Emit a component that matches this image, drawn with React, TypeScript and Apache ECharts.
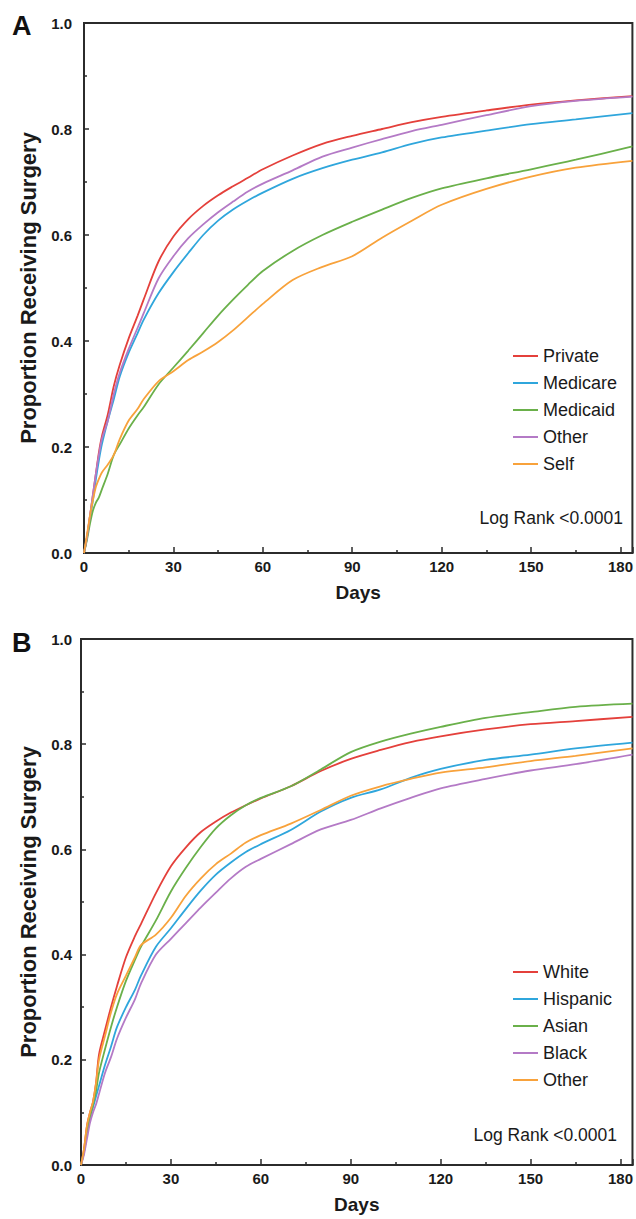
import React, { useEffect, useRef } from "react";
import * as echarts from "echarts";

const FONT = "'Liberation Sans', Arial, Helvetica, sans-serif";

const days = [0, 1, 2, 3, 4, 5, 6, 8, 10, 12, 15, 18, 20, 25, 30, 35, 40, 45, 50, 55, 60, 70, 80, 90, 100, 110, 120, 135, 150, 165, 184];

const xTickValues = [0, 30, 60, 90, 120, 150, 180];
const yTickValues = [0, 0.2, 0.4, 0.6, 0.8, 1.0];

// Panel A: payer
const payerNames = ["Private", "Medicare", "Medicaid", "Other", "Self"];
const privateVals = [0, 0.03, 0.07, 0.11, 0.15, 0.19, 0.22, 0.262, 0.315, 0.355, 0.405, 0.448, 0.478, 0.55, 0.597, 0.63, 0.655, 0.675, 0.692, 0.708, 0.724, 0.75, 0.772, 0.787, 0.8, 0.813, 0.823, 0.835, 0.846, 0.854, 0.862];
const medicareVals = [0, 0.03, 0.065, 0.1, 0.14, 0.175, 0.205, 0.25, 0.29, 0.333, 0.378, 0.415, 0.44, 0.49, 0.53, 0.566, 0.6, 0.627, 0.648, 0.665, 0.68, 0.706, 0.726, 0.742, 0.756, 0.772, 0.784, 0.797, 0.809, 0.818, 0.83];
const medicaidVals = [0, 0.025, 0.055, 0.08, 0.095, 0.105, 0.12, 0.15, 0.185, 0.205, 0.235, 0.26, 0.275, 0.318, 0.35, 0.382, 0.415, 0.448, 0.478, 0.506, 0.532, 0.57, 0.6, 0.625, 0.648, 0.67, 0.688, 0.707, 0.724, 0.742, 0.767];
const otherPayerVals = [0, 0.03, 0.07, 0.11, 0.15, 0.185, 0.215, 0.25, 0.3, 0.34, 0.385, 0.425, 0.452, 0.518, 0.56, 0.594, 0.62, 0.643, 0.663, 0.682, 0.697, 0.722, 0.748, 0.765, 0.781, 0.796, 0.808, 0.826, 0.843, 0.853, 0.861];
const selfVals = [0, 0.035, 0.07, 0.1, 0.125, 0.14, 0.152, 0.167, 0.185, 0.215, 0.25, 0.272, 0.29, 0.324, 0.343, 0.364, 0.38, 0.398, 0.42, 0.445, 0.47, 0.515, 0.54, 0.56, 0.595, 0.627, 0.657, 0.687, 0.71, 0.727, 0.74];

// Panel B: race
const raceNames = ["White", "Hispanic", "Asian", "Black", "Other"];
const whiteVals = [0, 0.03, 0.075, 0.1, 0.12, 0.155, 0.21, 0.256, 0.3, 0.34, 0.395, 0.435, 0.458, 0.517, 0.568, 0.604, 0.633, 0.653, 0.67, 0.684, 0.697, 0.72, 0.749, 0.772, 0.789, 0.804, 0.815, 0.828, 0.838, 0.844, 0.852];
const hispanicVals = [0, 0.025, 0.06, 0.09, 0.11, 0.13, 0.15, 0.19, 0.225, 0.262, 0.3, 0.333, 0.36, 0.415, 0.45, 0.487, 0.522, 0.552, 0.575, 0.595, 0.61, 0.637, 0.672, 0.698, 0.714, 0.736, 0.753, 0.77, 0.78, 0.792, 0.803];
const asianVals = [0, 0.025, 0.06, 0.09, 0.115, 0.14, 0.175, 0.22, 0.262, 0.3, 0.35, 0.39, 0.415, 0.465, 0.52, 0.565, 0.605, 0.64, 0.665, 0.684, 0.698, 0.72, 0.752, 0.785, 0.805, 0.82, 0.833, 0.85, 0.861, 0.871, 0.877];
const blackVals = [0, 0.02, 0.05, 0.08, 0.1, 0.115, 0.135, 0.175, 0.205, 0.24, 0.28, 0.315, 0.345, 0.4, 0.43, 0.46, 0.49, 0.518, 0.545, 0.567, 0.582, 0.61, 0.638, 0.656, 0.678, 0.698, 0.716, 0.734, 0.75, 0.762, 0.78];
const otherRaceVals = [0, 0.03, 0.075, 0.1, 0.12, 0.155, 0.2, 0.245, 0.29, 0.325, 0.36, 0.395, 0.418, 0.438, 0.47, 0.512, 0.545, 0.572, 0.592, 0.613, 0.627, 0.649, 0.675, 0.702, 0.72, 0.734, 0.746, 0.756, 0.768, 0.778, 0.792];

const RED = "#e4403b";
const BLUE = "#2fa6dc";
const GREEN = "#6ab04a";
const PURPLE = "#b47ac6";
const ORANGE = "#f8a23b";

const pair = (vals: number[]) => days.map((d, i) => [d, vals[i]]);

interface PanelCfg {
  letter: string;
  names: string[];
  values: number[][];
  colors: string[];
  gridLeft: number;
  gridTop: number;
  gridWidth: number;
  yLabelMargin: number;
  yNameGap: number;
  legendTop: number;
  logRankX: number;
  logRankY: number;
  letterY: number;
}

function makeOption(c: PanelCfg): any {
  const axisColor = "#2b2b2b";
  return {
    animation: false,
    backgroundColor: "#ffffff",
    textStyle: { fontFamily: FONT },
    grid: {
      left: c.gridLeft,
      top: c.gridTop,
      width: c.gridWidth,
      height: 530,
      show: true,
      borderColor: axisColor,
      borderWidth: 2,
      backgroundColor: "transparent",
    },
    xAxis: {
      type: "value",
      min: 0,
      max: 184,
      interval: 30,
      name: "Days",
      nameLocation: "middle",
      nameGap: 30,
      nameTextStyle: { fontSize: 19, fontWeight: "bold", color: "#1a1a1a", fontFamily: FONT, verticalAlign: "top" },
      axisLine: { show: true, lineStyle: { color: axisColor, width: 2 } },
      axisTick: { show: true, inside: true, length: 6, lineStyle: { color: axisColor, width: 1.5 } },
      minorTick: { show: true, splitNumber: 2, length: 3, lineStyle: { color: axisColor, width: 1.5 } },
      splitLine: { show: false },
      axisLabel: {
        margin: 6,
        fontSize: 15,
        fontWeight: "bold",
        color: "#1a1a1a",
        fontFamily: FONT,
        formatter: (v: number) => (xTickValues.indexOf(v) >= 0 ? String(v) : ""),
      },
    },
    yAxis: {
      type: "value",
      min: 0,
      max: 1,
      interval: 0.2,
      name: "Proportion Receiving Surgery",
      nameLocation: "middle",
      nameGap: c.yNameGap,
      nameTextStyle: { fontSize: 22, fontWeight: "bold", color: "#1a1a1a", fontFamily: FONT },
      axisLine: { show: true, lineStyle: { color: axisColor, width: 2 } },
      axisTick: { show: true, inside: true, length: 5, lineStyle: { color: axisColor, width: 1.5 } },
      minorTick: { show: true, splitNumber: 2, length: 3, lineStyle: { color: axisColor, width: 1.5 } },
      splitLine: { show: false },
      axisLabel: {
        margin: c.yLabelMargin,
        fontSize: 15,
        fontWeight: "bold",
        color: "#1a1a1a",
        fontFamily: FONT,
        formatter: (v: number) => (yTickValues.some((t) => Math.abs(t - v) < 1e-9) ? v.toFixed(1) : ""),
      },
    },
    legend: {
      orient: "vertical",
      left: 508,
      top: c.legendTop,
      itemWidth: 25,
      itemHeight: 2,
      itemGap: 9,
      icon: "rect",
      selectedMode: false,
      textStyle: { fontSize: 18, color: "#1a1a1a", fontFamily: FONT },
      data: c.names,
    },
    graphic: [
      {
        type: "text",
        x: 12,
        y: c.letterY,
        style: { text: c.letter, fontSize: 27, fontWeight: "bold", fontFamily: FONT, fill: "#111", verticalAlign: "middle" },
      },
      {
        type: "text",
        x: c.logRankX,
        y: c.logRankY,
        style: { text: "Log Rank <0.0001", fontSize: 17.5, fontFamily: FONT, fill: "#1a1a1a", align: "right", verticalAlign: "middle" },
      },
    ],
    series: c.names.map((n, i) => ({
      name: n,
      type: "line",
      data: pair(c.values[i]),
      showSymbol: false,
      symbol: "none",
      clip: true,
      smooth: 0.3,
      color: c.colors[i],
      lineStyle: { width: 1.8, color: c.colors[i] },
    })),
  };
}

const panelA: PanelCfg = {
  letter: "A",
  names: payerNames,
  values: [privateVals, medicareVals, medicaidVals, otherPayerVals, selfVals],
  colors: [RED, BLUE, GREEN, PURPLE, ORANGE],
  gridLeft: 84,
  gridTop: 23,
  gridWidth: 553,
  yLabelMargin: 12,
  yNameGap: 45,
  legendTop: 342,
  logRankX: 623,
  logRankY: 518,
  letterY: 26,
};

const panelB: PanelCfg = {
  letter: "B",
  names: raceNames,
  values: [whiteVals, hispanicVals, asianVals, blackVals, otherRaceVals],
  colors: [RED, BLUE, GREEN, PURPLE, ORANGE],
  gridLeft: 81,
  gridTop: 29,
  gridWidth: 554,
  yLabelMargin: 9,
  yNameGap: 42,
  legendTop: 348,
  logRankX: 617,
  logRankY: 525,
  letterY: 33,
};

function Panel({ cfg, top, height }: { cfg: PanelCfg; top: number; height: number }) {
  const ref = useRef<HTMLDivElement>(null);
  useEffect(() => {
    if (!ref.current) return;
    const chart = echarts.init(ref.current, undefined, { renderer: "svg" });
    chart.setOption(makeOption(cfg));
    return () => chart.dispose();
  }, [cfg]);
  return (
    <div
      ref={ref}
      style={{ position: "absolute", left: 0, top, width: 636, height }}
    />
  );
}

export default function App() {
  return (
    <div style={{ position: "absolute", left: 0, top: 0, width: 636, height: 1219, background: "#fff", overflow: "hidden" }}>
      <Panel cfg={panelA} top={0} height={610} />
      <Panel cfg={panelB} top={610} height={609} />
    </div>
  );
}
